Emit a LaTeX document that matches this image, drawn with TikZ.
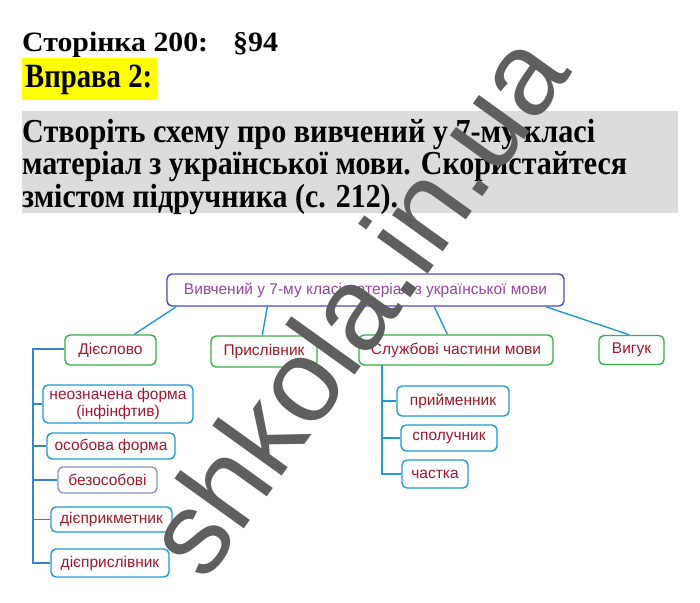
\documentclass[tikz,border=0pt]{standalone}
\usepackage{fontspec}
\usepackage{graphicx}
\setmainfont{Liberation Serif}
\newfontfamily\sansf{Liberation Sans}
\usetikzlibrary{calc}
\definecolor{topborder}{RGB}{75,75,190}
\definecolor{toptext}{RGB}{150,70,160}
\definecolor{grn}{RGB}{60,175,75}
\definecolor{redtxt}{RGB}{160,25,45}
\definecolor{cyanb}{RGB}{30,155,215}
\definecolor{greyb}{RGB}{125,155,200}
\definecolor{steel}{RGB}{60,130,200}
\definecolor{boxgray}{RGB}{220,220,220}
\definecolor{hl}{RGB}{255,255,0}
\definecolor{wm}{RGB}{95,95,95}
\newcommand{\fitw}[2]{\resizebox{#1}{\height}{#2}}
\tikzset{
  heading/.style={anchor=base west, inner sep=0pt, font=\bfseries},
  box/.style={draw, rounded corners=5pt, line width=1.4pt, inner sep=0pt,
    font=\sansf\fontsize{15.5}{17}\selectfont, text=redtxt, align=center},
  topbox/.style={box, draw=topborder, text=toptext},
  mainbox/.style={box, draw=grn},
  subbox/.style={box, draw=cyanb},
  conn/.style={draw=cyanb, line width=1.4pt},
  lconn/.style={draw=steel, line width=1.4pt}
}
\begin{document}
\begin{tikzpicture}[x=1pt,y=-1pt]
\useasboundingbox (0,0) rectangle (700,602);
\fill[white] (0,0) rectangle (700,602);
% headings
\node[heading, font=\bfseries\fontsize{28}{30}\selectfont] (h1) at (22,52) {\fitw{186pt}{Сторінка 200:}};
\node[heading, font=\bfseries\fontsize{28}{30}\selectfont] (h1b) at (233,52) {\fitw{45pt}{§94}};
\fill[hl] (22,58) rectangle (157,100);
\node[heading, font=\bfseries\fontsize{34}{36}\selectfont] (h2) at (25,87) {\fitw{127pt}{Вправа 2:}};
\fill[boxgray] (22,111) rectangle (678,213);
\node[heading, font=\bfseries\fontsize{33.5}{36}\selectfont] (l1) at (22,142) {\fitw{573pt}{Створіть схему про вивчений у 7-му класі}};
\node[heading, font=\bfseries\fontsize{33.5}{36}\selectfont] (l2) at (22,174.5) {\fitw{605pt}{матеріал з української мови. Скористайтеся}};
\node[heading, font=\bfseries\fontsize{33.5}{36}\selectfont] (l3) at (22,207) {\fitw{376pt}{змістом підручника (с. 212).}};
% diagram nodes
\node[topbox, minimum width=397pt, minimum height=32pt] (top) at (365.5,290) {Вивчений у 7-му класі матеріал з української мови};
\node[mainbox, minimum width=91pt, minimum height=30pt] (dies) at (110.5,350) {Дієслово};
\node[mainbox, minimum width=106pt, minimum height=31pt] (prysl) at (264,351.5) {Прислівник};
\node[mainbox, minimum width=194pt, minimum height=30pt] (sluzh) at (456,350) {Службові частини мови};
\node[mainbox, minimum width=65pt, minimum height=29pt] (vyhuk) at (631.5,350) {Вигук};
\node[subbox, minimum width=150pt, minimum height=38pt, font=\sansf\fontsize{15.5}{17.5}\selectfont] (neozn) at (118,404) {неозначена форма\\(інфінфтив)};
\node[subbox, minimum width=128pt, minimum height=26pt] (osob) at (111,446) {особова форма};
\node[subbox, draw=greyb, minimum width=99pt, minimum height=26pt] (bezos) at (107.5,480) {безособові};
\node[subbox, minimum width=121pt, minimum height=25pt] (dprykm) at (111.5,519.5) {дієприкметник};
\node[subbox, minimum width=118pt, minimum height=28pt] (dprysl) at (110,563) {дієприслівник};
\node[subbox, minimum width=112pt, minimum height=30pt] (pryim) at (453,401) {прийменник};
\node[subbox, minimum width=96pt, minimum height=26pt] (spol) at (449,438) {сполучник};
\node[subbox, minimum width=66pt, minimum height=28pt] (chast) at (435,474) {частка};
% connectors from the top node
\draw[conn] ([xshift=10pt]top.south west) -- ([xshift=70pt]dies.north west);
\draw[conn] ([xshift=101pt]top.south west) -- ([xshift=52pt]prysl.north west);
\draw[conn] ([xshift=268pt]top.south west) -- ([xshift=89pt]sluzh.north west);
\draw[conn] ([xshift=-19pt]top.south east) -- ([xshift=31pt]vyhuk.north west);
% left tree
\coordinate (lt) at (33,349);
\draw[lconn] ([yshift=1pt]dies.west) -- (lt) |- (dprysl.west);
\draw[lconn] (lt |- neozn.west) -- (neozn.west);
\draw[lconn] (lt |- osob.west) -- (osob.west);
\draw[lconn] (lt |- bezos.west) -- (bezos.west);
\draw[lconn] (lt |- dprykm.west) -- (dprykm.west);
% right tree
\coordinate (rt) at (382,365);
\draw[conn] (rt) |- (chast.west);
\draw[conn] (rt |- pryim.west) -- (pryim.west);
\draw[conn] (rt |- spol.west) -- (spol.west);
% watermark
\node[anchor=base, inner sep=0pt, rotate=54.3, text=wm, font=\sansf\fontsize{118}{120}\selectfont] (wmark) at (389,328) {shkola.in.ua};
\end{tikzpicture}
\end{document}
